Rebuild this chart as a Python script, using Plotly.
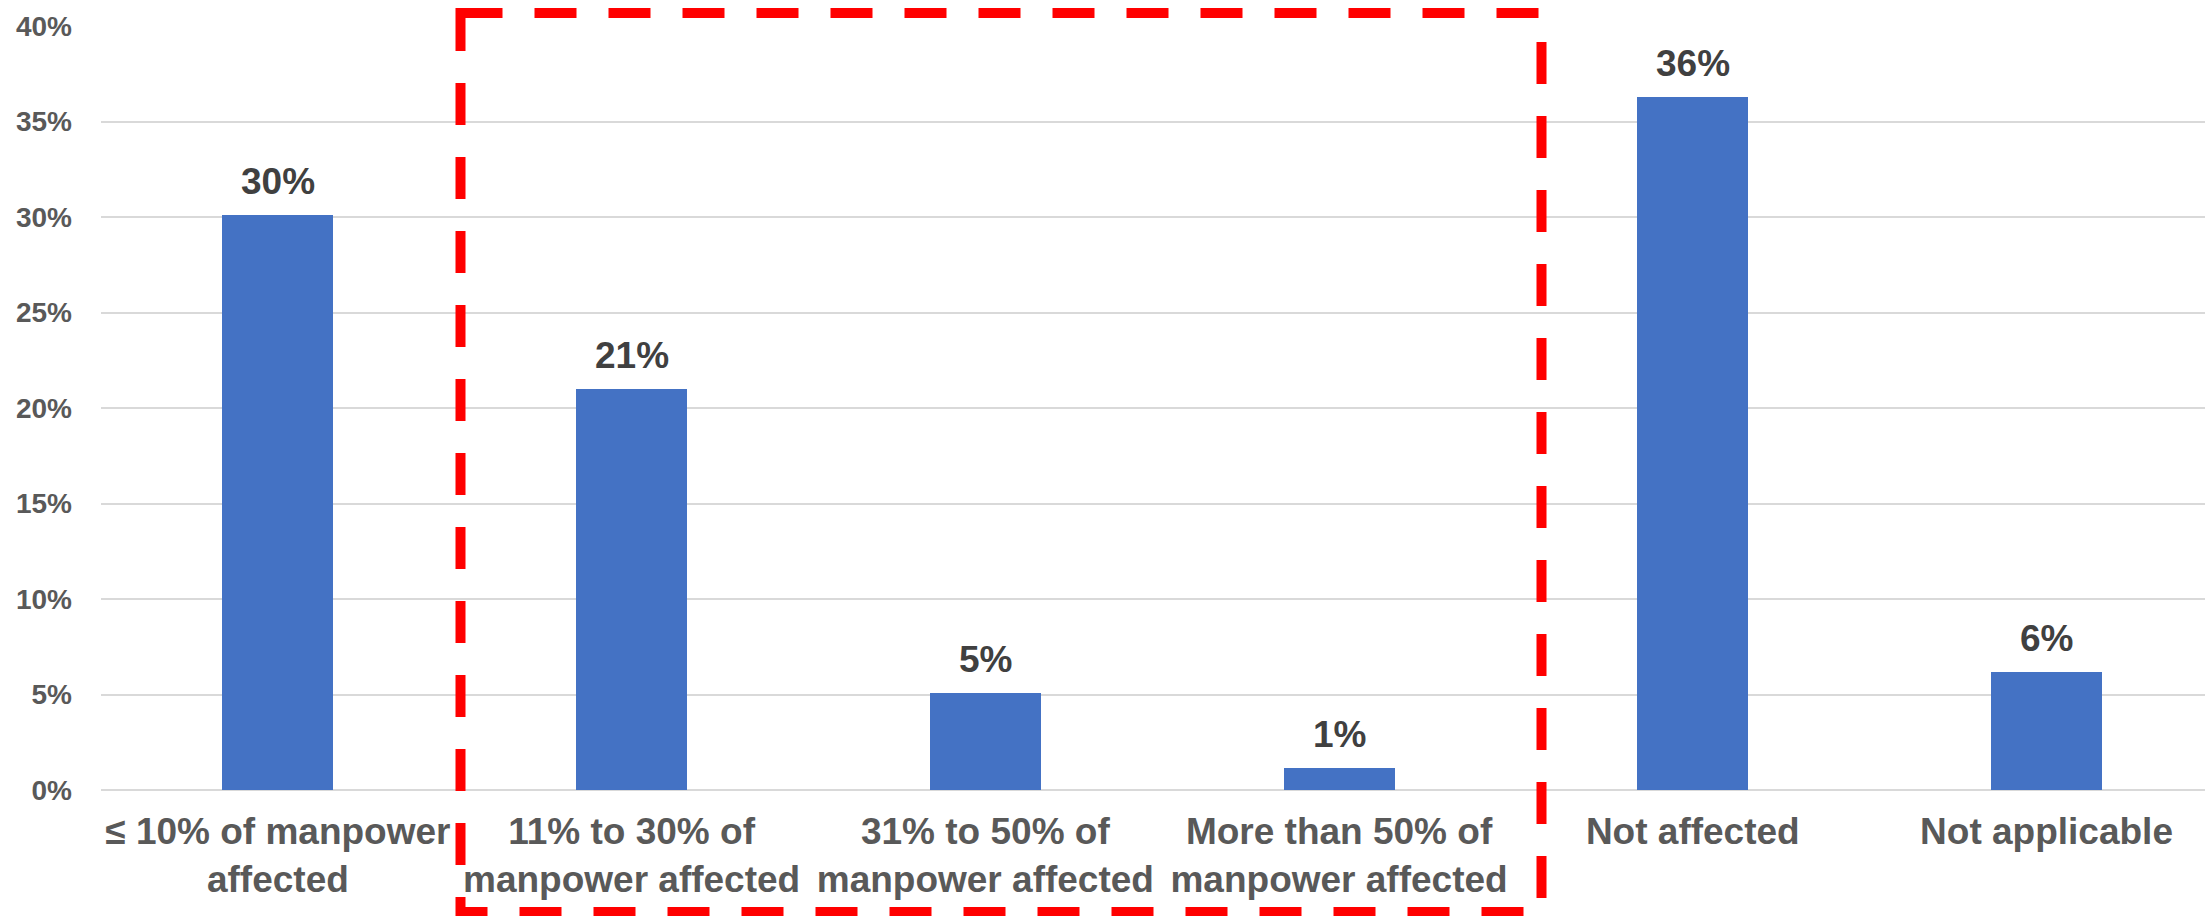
import plotly.graph_objects as go

# Share of manpower affected, by category
categories = [
    "≤ 10% of manpower<br>affected",
    "11% to 30% of<br>manpower affected",
    "31% to 50% of<br>manpower affected",
    "More than 50% of<br>manpower affected",
    "Not affected",
    "Not applicable",
]
shares = [0.301, 0.210, 0.051, 0.0115, 0.363, 0.062]
y_ticks = [0, 0.05, 0.10, 0.15, 0.20, 0.25, 0.30, 0.35, 0.40]
y_tick_labels = ["0%", "5%", "10%", "15%", "20%", "25%", "30%", "35%", "40%"]

FONT = "Arial, Liberation Sans, sans-serif"
BAR_BLUE = "#4472C4"
AXIS_GREY = "#595959"
LABEL_GREY = "#404040"
GRID_GREY = "#D9D9D9"

W, H = 2205, 916
M_L, M_R, M_T, M_B = 101, 0, 26, 126

positions = list(range(len(categories)))

fig = go.Figure(
    go.Bar(
        x=positions,
        y=shares,
        width=0.314,
        marker=dict(color=BAR_BLUE, line=dict(width=0)),
        hovertemplate="%{y:.1%}<extra></extra>",
    )
)

# Value labels above each bar
for pos, share in zip(positions, shares):
    fig.add_annotation(
        x=pos,
        y=share,
        xref="x",
        yref="y",
        text=f"{share:.0%}",
        showarrow=False,
        yanchor="bottom",
        yshift=11,
        font=dict(family=FONT, size=37, color=LABEL_GREY, weight="bold"),
    )

# Highlight box around the partially affected groups (paper coordinates)
plot_w = W - M_L - M_R
plot_h = H - M_T - M_B
box_left = (460.5 - M_L) / plot_w
box_right = (1541.5 - M_L) / plot_w
box_top = (H - M_B - 13) / plot_h
box_bottom = (H - M_B - 912) / plot_h
fig.add_shape(
    type="path",
    xref="paper",
    yref="paper",
    path=(
        f"M {box_left},{box_top} L {box_right},{box_top} "
        f"L {box_right},{box_bottom} L {box_left},{box_bottom} Z"
    ),
    line=dict(color="#FF0000", width=10, dash="42px,32px"),
    layer="above",
)

fig.update_layout(
    width=W,
    height=H,
    margin=dict(l=M_L, r=M_R, t=M_T, b=M_B, pad=0),
    paper_bgcolor="white",
    plot_bgcolor="white",
    showlegend=False,
    bargap=0,
    xaxis=dict(
        range=[-0.5, 5.448],
        tickmode="array",
        tickvals=positions,
        ticktext=categories,
        tickfont=dict(family=FONT, size=37, color=AXIS_GREY, weight="bold"),
        showgrid=False,
        zeroline=False,
        showline=False,
        ticks="",
        ticklabelstandoff=16,
    ),
    yaxis=dict(
        range=[0, 0.4],
        tickmode="array",
        tickvals=y_ticks,
        ticktext=y_tick_labels,
        tickfont=dict(family=FONT, size=28, color=AXIS_GREY, weight="bold"),
        showgrid=True,
        gridcolor=GRID_GREY,
        gridwidth=2,
        zeroline=True,
        zerolinecolor=GRID_GREY,
        zerolinewidth=2,
        showline=False,
        ticks="",
        ticklabelstandoff=28,
    ),
)

fig.write_html("out.html")
